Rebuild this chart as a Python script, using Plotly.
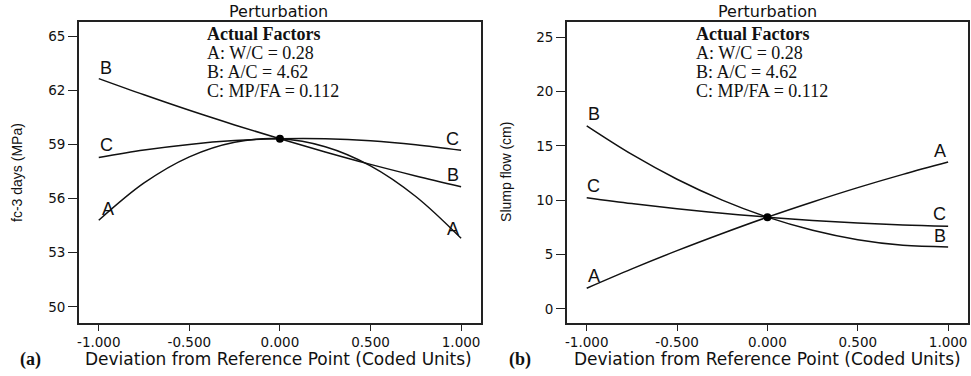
import plotly.graph_objects as go

# Coded deviation values
x_dev = [-1.0, -0.75, -0.5, -0.25, 0.0, 0.25, 0.5, 0.75, 1.0]

# Panel (a): fc-3 days (MPa)
fc_A = [54.80, 56.87, 58.32, 59.13, 59.32, 58.88, 57.82, 56.12, 53.80]
fc_B = [62.66, 61.76, 60.90, 60.09, 59.32, 58.59, 57.90, 57.26, 56.66]
fc_C = [58.28, 58.70, 59.01, 59.22, 59.32, 59.32, 59.21, 58.99, 58.68]
fc_ref = 59.32

# Panel (b): Slump flow (cm)
sf_A = [1.90, 3.68, 5.36, 6.94, 8.44, 9.84, 11.16, 12.38, 13.51]
sf_B = [16.84, 14.21, 11.93, 10.01, 8.44, 7.23, 6.36, 5.85, 5.70]
sf_C = [10.23, 9.69, 9.22, 8.80, 8.44, 8.14, 7.90, 7.72, 7.60]
sf_ref = 8.44

fc_ticks = [50, 53, 56, 59, 62, 65]
sf_ticks = [0, 5, 10, 15, 20, 25]
x_ticks = [-1.0, -0.5, 0.0, 0.5, 1.0]
x_tick_labels = ["-1.000", "-0.500", "0.000", "0.500", "1.000"]

# Curve end labels: (text, x, y)
fc_labels = [("B", -0.96, 63.25), ("C", -0.96, 58.95), ("A", -0.95, 55.4),
             ("C", 0.95, 59.3), ("B", 0.955, 57.3), ("A", 0.955, 54.3)]
sf_labels = [("B", -0.96, 17.9), ("C", -0.96, 11.3), ("A", -0.96, 3.0),
             ("A", 0.955, 14.5), ("C", 0.955, 8.7), ("B", 0.955, 6.7)]

factor_lines = ["<b>Actual Factors</b>", "A: W/C = 0.28", "B: A/C = 4.62", "C: MP/FA = 0.112"]

SANS = "DejaVu Sans"
fig = go.Figure()
line_style = dict(color="#111111", width=1.5)

for ys in (fc_A, fc_B, fc_C):
    fig.add_trace(go.Scatter(x=x_dev, y=ys, mode="lines", line=dict(**line_style, shape="spline"),
                             xaxis="x", yaxis="y", showlegend=False, hoverinfo="skip"))
fig.add_trace(go.Scatter(x=[0.0], y=[fc_ref], mode="markers", marker=dict(color="black", size=8),
                         xaxis="x", yaxis="y", showlegend=False))

for ys in (sf_A, sf_B, sf_C):
    fig.add_trace(go.Scatter(x=x_dev, y=ys, mode="lines", line=dict(**line_style, shape="spline"),
                             xaxis="x2", yaxis="y2", showlegend=False, hoverinfo="skip"))
fig.add_trace(go.Scatter(x=[0.0], y=[sf_ref], mode="markers", marker=dict(color="black", size=8),
                         xaxis="x2", yaxis="y2", showlegend=False))

annotations = []
for t, xx, yy in fc_labels:
    annotations.append(dict(text=t, x=xx, y=yy, xref="x", yref="y", showarrow=False,
                            font=dict(family="Arial", size=18, color="#111")))
for t, xx, yy in sf_labels:
    annotations.append(dict(text=t, x=xx, y=yy, xref="x2", yref="y2", showarrow=False,
                            font=dict(family="Arial", size=18, color="#111")))

for xpx in (203, 693):
    for i, line in enumerate(factor_lines):
        annotations.append(dict(text=line, x=xpx / 971, y=1 - (34 + 19 * i) / 376, xref="paper", yref="paper",
                                xanchor="left", yanchor="middle", showarrow=False,
                                font=dict(family="Liberation Serif", size=18, color="#111")))

def paper_text(text, xpx, ypx, size, family=SANS, angle=0):
    return dict(text=text, x=xpx / 971, y=1 - ypx / 376, xref="paper", yref="paper",
                xanchor="center", yanchor="middle", textangle=angle, showarrow=False,
                font=dict(family=family, size=size, color="#111"))

for cx in (277, 767):
    annotations.append(paper_text("Perturbation", cx, 11, 16))
    annotations.append(paper_text("Deviation from Reference Point (Coded Units)", cx, 359, 17))

annotations.append(paper_text("<b>(a)</b>", 29, 359, 18, "Liberation Serif"))
annotations.append(paper_text("<b>(b)</b>", 519, 359, 18, "Liberation Serif"))
annotations.append(paper_text("fc-3 days (MPa)", 15, 172, 14, family="Arial", angle=-90))
annotations.append(paper_text("Slump flow (cm)", 505, 172, 14, family="Arial", angle=-90))

axis_common = dict(showline=True, mirror=True, linecolor="#222", linewidth=1.6, ticks="outside",
                   tickwidth=1.3, tickcolor="#222", showgrid=False, zeroline=False,
                   tickfont=dict(family=SANS, size=13.5, color="#111"))

ydom = [1 - 323 / 376, 1 - 22 / 376]
fig.update_layout(
    width=971, height=376, margin=dict(l=0, r=0, t=0, b=0),
    paper_bgcolor="white", plot_bgcolor="white",
    xaxis=dict(domain=[77 / 971, 480 / 971], range=[-1.11, 1.11], tickvals=x_ticks,
               ticktext=x_tick_labels, anchor="y", ticklen=6, **axis_common),
    yaxis=dict(domain=ydom, range=[49.1, 65.8], tickvals=fc_ticks, anchor="x", ticklen=9, **axis_common),
    xaxis2=dict(domain=[566 / 971, 968 / 971], range=[-1.11, 1.11], tickvals=x_ticks,
                ticktext=x_tick_labels, anchor="y2", ticklen=6, **axis_common),
    yaxis2=dict(domain=ydom, range=[-1.3, 26.4], tickvals=sf_ticks, anchor="x2", ticklen=9, **axis_common),
    annotations=annotations,
)

fig.write_html("out.html", config={"displayModeBar": False},
               post_script="document.body.style.margin='0';")
